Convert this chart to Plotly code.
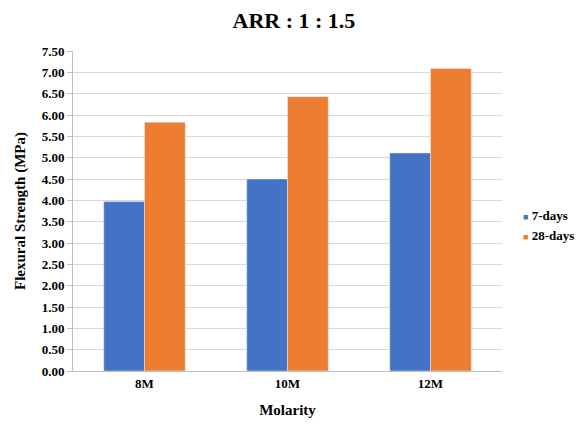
import plotly.graph_objects as go

categories = ["8M", "10M", "12M"]
days7 = [3.97, 4.50, 5.11]
days28 = [5.83, 6.43, 7.09]
series_names = ["7-days", "28-days"]
series_colors = ["#4472C4", "#ED7D31"]
y_ticks = [i * 0.5 for i in range(16)]
y_tick_labels = [f"{v:.2f}" for v in y_ticks]

serif = "Times New Roman"

fig = go.Figure()
for name, vals, color in zip(series_names, [days7, days28], series_colors):
    fig.add_trace(go.Bar(name=name, x=categories, y=vals, marker_color=color,
                         showlegend=False))

# Legend entries: colored square glyph followed by the series name
for i, (name, color) in enumerate(zip(series_names, series_colors)):
    fig.add_annotation(
        xref="paper", yref="paper", x=1.045, y=0.4875 - i * 0.0655,
        xanchor="left", yanchor="middle", showarrow=False,
        text=f"<span style='color:{color};font-size:9px'>■</span> <b>{name}</b>",
        font=dict(family=serif, size=13, color="black"),
    )

fig.update_layout(
    width=581, height=426,
    margin=dict(l=73, r=79, t=51, b=55),
    paper_bgcolor="white", plot_bgcolor="white",
    barmode="group", bargap=0.43, bargroupgap=0,
    font=dict(family=serif, size=16, color="black"),
    title=dict(text="<b>ARR : 1 : 1.5</b>", x=0.515, xref="paper", xanchor="center",
               y=0.952, yanchor="middle", font=dict(family=serif, size=22, color="black")),
    showlegend=False,
)
fig.update_xaxes(
    showline=True, linecolor="#bfbfbf", linewidth=1,
    tickfont=dict(family=serif, size=13, weight="bold", color="black"),
    title=dict(text="<b>Molarity</b>", font=dict(family=serif, size=15, color="black"), standoff=14),
)
fig.update_yaxes(
    range=[0, 7.5], tickvals=y_ticks, ticktext=y_tick_labels,
    showgrid=True, gridcolor="#d9d9d9", gridwidth=1,
    showline=True, linecolor="#bfbfbf", linewidth=1,
    ticks="outside", ticklen=5, tickcolor="#bfbfbf",
    tickfont=dict(family=serif, size=13, weight="bold", color="black"),
    title=dict(text="<b>Flexural Strength (MPa)</b>", font=dict(family=serif, size=15, color="black"), standoff=12),
    zeroline=False,
)

fig.write_html("out.html")
